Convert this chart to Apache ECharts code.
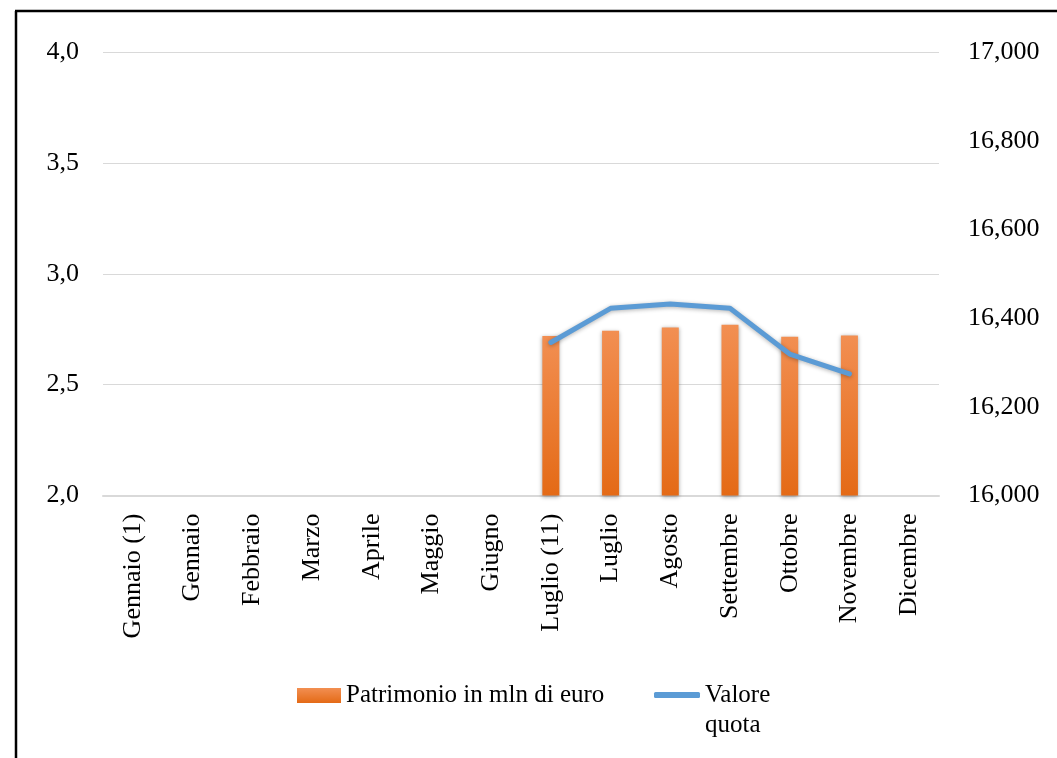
<!DOCTYPE html>
<html>
<head>
<meta charset="utf-8">
<script src="https://cdn.jsdelivr.net/npm/echarts@6/dist/echarts.min.js"></script>
<style>
html,body{margin:0;padding:0;background:#fff;}
#c{width:1057px;height:758px;}
</style>
</head>
<body>
<div id="c"></div>
<script>
const categories = ['Gennaio (1)','Gennaio','Febbraio','Marzo','Aprile','Maggio','Giugno','Luglio (11)','Luglio','Agosto','Settembre','Ottobre','Novembre','Dicembre'];
const patrimonio = [null,null,null,null,null,null,null,2.719,2.743,2.758,2.770,2.716,2.722,null];
const valoreQuota = [null,null,null,null,null,null,null,16.345,16.422,16.432,16.422,16.319,16.274,null];
const leftTicks = {min: 2, max: 4, interval: 0.5};
const rightTicks = {min: 16, max: 17, interval: 0.2};

const FONT = '"Liberation Serif", "DejaVu Serif", serif';
const barGradient = () => new echarts.graphic.LinearGradient(0,0,0,1,[{offset:0,color:'#F28F52'},{offset:1,color:'#E46A16'}]);
const chart = echarts.init(document.getElementById('c'), null, {renderer: 'canvas'});
chart.setOption({
  animation: false,
  backgroundColor: '#fff',
  textStyle: {fontFamily: FONT},
  grid: {left: 103, right: 118, top: 52, bottom: 262.5, containLabel: false},
  graphic: [
    {type: 'line', shape: {x1: 16, y1: 11, x2: 16, y2: 758}, style: {stroke: '#000', lineWidth: 2.5}},
    {type: 'line', shape: {x1: 15, y1: 11, x2: 1057, y2: 11}, style: {stroke: '#000', lineWidth: 2.5}}
  ],
  legend: [
    {
      data: [{name: 'Patrimonio in mln di euro', icon: 'rect', itemStyle: {color: barGradient()}}],
      left: 297, top: 680.5, padding: 0,
      itemWidth: 44, itemHeight: 15,
      textStyle: {fontFamily: FONT, fontSize: 25, color: '#000', lineHeight: 30}
    },
    {
      data: [{name: 'Valore quota', icon: 'roundRect', itemStyle: {color: '#5B9BD5'}}],
      left: 654, top: 650, padding: 0,
      itemWidth: 46, itemHeight: 6,
      formatter: function(){ return ' \nValore\nquota'; },
      textStyle: {fontFamily: FONT, fontSize: 25, color: '#000', lineHeight: 30}
    }
  ],
  xAxis: {
    type: 'category',
    data: categories,
    boundaryGap: true,
    axisLine: {show: true, lineStyle: {color: '#d9d9d9', width: 2}},
    axisTick: {show: false},
    axisLabel: {rotate: 90, margin: 18, fontFamily: FONT, fontSize: 26, color: '#000', interval: 0}
  },
  yAxis: [
    {
      type: 'value', min: leftTicks.min, max: leftTicks.max, interval: leftTicks.interval,
      axisLine: {show: false}, axisTick: {show: false},
      splitLine: {lineStyle: {color: '#d9d9d9', width: 1}},
      axisLabel: {margin: 24, fontFamily: FONT, fontSize: 26, color: '#000',
        formatter: v => v.toFixed(1).replace('.', ',')}
    },
    {
      type: 'value', min: rightTicks.min, max: rightTicks.max, interval: rightTicks.interval,
      axisLine: {show: false}, axisTick: {show: false},
      splitLine: {show: false},
      axisLabel: {margin: 29, fontFamily: FONT, fontSize: 26, color: '#000',
        formatter: v => v.toFixed(3).replace('.', ',')}
    }
  ],
  series: [
    {
      name: 'Patrimonio in mln di euro',
      type: 'bar',
      yAxisIndex: 0,
      data: patrimonio,
      barWidth: 17,
      itemStyle: {
        color: barGradient(),
        shadowColor: 'rgba(0,0,0,0.35)', shadowBlur: 4, shadowOffsetY: 1
      }
    },
    {
      name: 'Valore quota',
      type: 'line',
      yAxisIndex: 1,
      data: valoreQuota,
      showSymbol: false,
      symbol: 'none',
      lineStyle: {color: '#5B9BD5', width: 5, cap: 'round', join: 'round',
        shadowColor: 'rgba(0,0,0,0.3)', shadowBlur: 4, shadowOffsetY: 1},
      itemStyle: {color: '#5B9BD5'}
    }
  ]
});
</script>
</body>
</html>
